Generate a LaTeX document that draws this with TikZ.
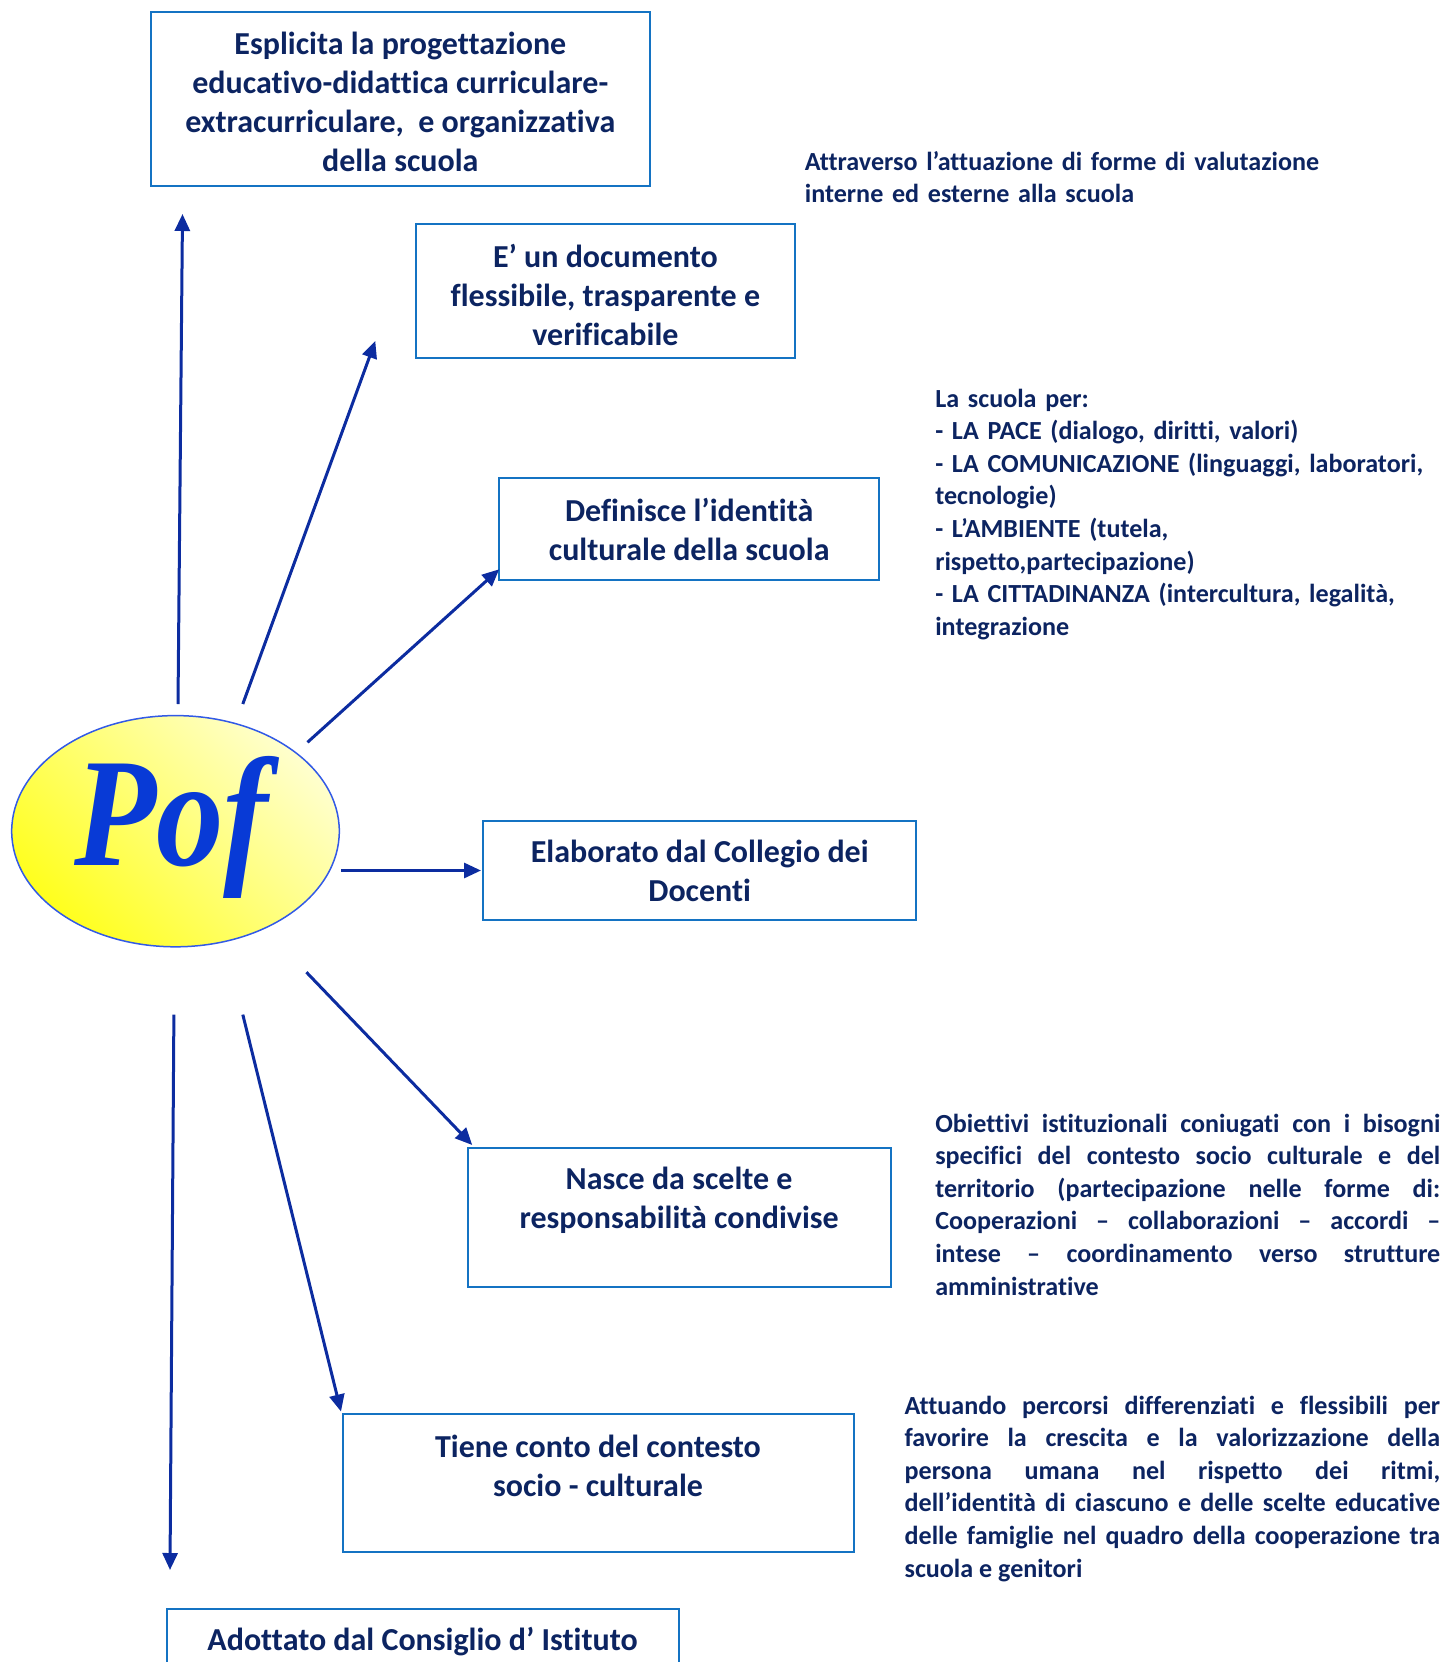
\documentclass[tikz,border=0pt]{standalone}
\usepackage{fontspec}
\setmainfont{Carlito}[Ligatures=NoCommon]
\newfontfamily\poffont{Liberation Serif}
\usetikzlibrary{arrows.meta,shapes.geometric}
\definecolor{navy}{RGB}{12,36,97}
\definecolor{boxblue}{RGB}{20,115,195}
\definecolor{arrblue}{RGB}{12,44,160}
\definecolor{pofblue}{RGB}{8,58,214}
\definecolor{ellblue}{RGB}{50,90,230}
\definecolor{yelstrong}{RGB}{255,255,30}
\definecolor{yelpale}{RGB}{255,255,205}
\begin{document}
\begin{tikzpicture}[x=1pt,y=-1pt,
  box/.style={draw=boxblue, line width=2pt, rectangle, inner sep=0pt},
  boxtxt/.style={text=navy, font=\fontsize{32}{39}\selectfont\bfseries, align=center, inner sep=0pt},
  side/.style={text=navy, font=\fontsize{26.1}{32.6}\selectfont\bfseries, inner sep=0pt, anchor=base west},
  arr/.style={draw=arrblue, line width=3pt, -{Triangle[length=17pt,width=15pt]}}]
\useasboundingbox (0,0) rectangle (1445,1662);
\clip (0,0) rectangle (1445,1662);

% boxes
\node[box, minimum width=499.5pt, minimum height=174pt] (b1) at (400.3,99) {};
\node[boxtxt] (t1) at (400.3,102)
  {Esplicita la progettazione\\educativo-didattica curriculare-\\extracurriculare,\ \ e organizzativa\\della scuola};
\node[box, minimum width=379.6pt, minimum height=134.7pt] (b2) at (605.4,291) {};
\node[boxtxt] (t2) at (605.4,295)
  {E’ un documento\\flessibile, trasparente e\\verificabile};
\node[box, minimum width=379.5pt, minimum height=101.8pt] (b3) at (689.2,529.1) {};
\node[boxtxt] (t3) at (689.2,529.1)
  {Definisce l’identità\\culturale della scuola};
\node[box, minimum width=432.6pt, minimum height=99.7pt] (b4) at (699.7,870.5) {};
\node[boxtxt] (t4) at (699.7,870.5)
  {Elaborato dal Collegio dei\\Docenti};
\node[box, minimum width=423pt, minimum height=139pt] (b5) at (679.1,1217.5) {};
\node[boxtxt] (t5) at (679.1,1200) {Nasce da scelte e\\responsabilità condivise};
\node[box, minimum width=511pt, minimum height=137.7pt] (b6) at (598,1483.2) {};
\node[boxtxt] (t6) at (598,1466) {Tiene conto del contesto\\socio - culturale};
\node[box, minimum width=512pt, minimum height=100pt] (b7) at (422.5,1659) {};
\node[boxtxt, anchor=base] (t7) at (422.5,1650) {Adottato dal Consiglio d’ Istituto};

% Pof ellipse
\node[ellipse, draw=ellblue, line width=1.5pt, minimum width=327.6pt, minimum height=231.2pt,
  inner sep=0pt, top color=yelpale, bottom color=yelstrong, shading angle=-45] (pof) at (175.5,831.2) {};
\node[text=pofblue, font=\poffont\fontsize{155}{155}\selectfont\bfseries\itshape, anchor=base,
  inner sep=0pt, xscale=0.87, transform shape]
  (poft) at (171.5,865) {Pof};

% side texts
\node[side, text width=620pt, align=left] (s1) at (804.7,170)
  {Attraverso l’attuazione di forme di valutazione\\interne ed esterne alla scuola};
\node[side, text width=505pt, align=left] (s2) at (935.1,407)
  {La scuola per:\\- LA PACE (dialogo, diritti, valori)\\- LA COMUNICAZIONE (linguaggi, laboratori,\\tecnologie)\\- L’AMBIENTE (tutela,\\rispetto,partecipazione)\\- LA CITTADINANZA (intercultura, legalità,\\integrazione};
\node[side, text width=505pt, align=justify] (s3) at (935.1,1132)
  {Obiettivi istituzionali coniugati con i bisogni\linebreak
   specifici del contesto socio culturale e del\linebreak
   territorio (partecipazione nelle forme di:\linebreak
   Cooperazioni – collaborazioni – accordi –\linebreak
   intese – coordinamento verso strutture\linebreak
   amministrative};
\node[side, text width=535.6pt, align=justify] (s4) at (904.4,1414)
  {Attuando percorsi differenziati e flessibili per\linebreak
   favorire la crescita e la valorizzazione della\linebreak
   persona umana nel rispetto dei ritmi,\linebreak
   dell’identità di ciascuno e delle scelte educative\linebreak
   delle famiglie nel quadro della cooperazione tra\linebreak
   scuola e genitori};

% arrows
\coordinate (a1s) at (178,704);   \coordinate (a1e) at (182.5,214);
\coordinate (a2s) at (242.8,704); \coordinate (a2e) at (375.3,341);
\coordinate (a3s) at (307.5,742.3); \coordinate (a3e) at (499.2,569.3);
\coordinate (a4s) at (341.2,870.5); \coordinate (a4e) at (481,870.5);
\coordinate (a5s) at (306.4,972.2); \coordinate (a5e) at (472.2,1145);
\coordinate (a6s) at (242.8,1014.6); \coordinate (a6e) at (341,1411.5);
\coordinate (a7s) at (173.9,1014.6); \coordinate (a7e) at (170,1570);
\draw[arr] (a1s) -- (a1e);
\draw[arr] (a2s) -- (a2e);
\draw[arr] (a3s) -- (a3e);
\draw[arr] (a4s) -- (a4e);
\draw[arr] (a5s) -- (a5e);
\draw[arr] (a6s) -- (a6e);
\draw[arr] (a7s) -- (a7e);
\end{tikzpicture}
\end{document}
